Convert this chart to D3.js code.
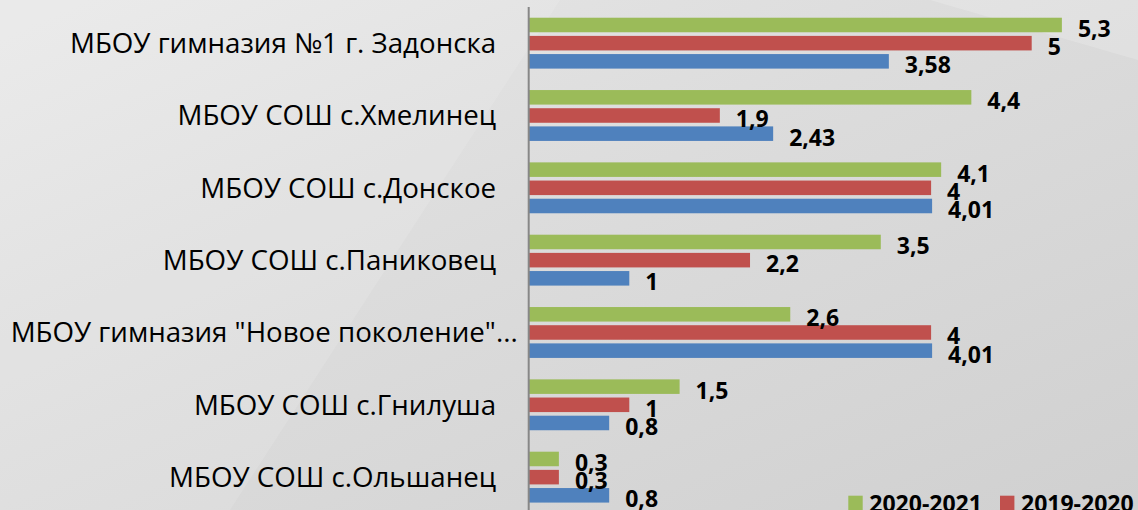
<!DOCTYPE html>
<html><head><meta charset="utf-8">
<script src="https://cdn.jsdelivr.net/npm/d3@7"></script>
<style>
html,body{margin:0;padding:0;overflow:hidden;background:#dcdcdc;}
svg{display:block;}
text{font-family:"Open Sans","Noto Sans",sans-serif;}
</style></head>
<body>
<script>
const categories = ["МБОУ гимназия №1 г. Задонска   ", "МБОУ СОШ с.Хмелинец   ", "МБОУ СОШ с.Донское   ", "МБОУ СОШ с.Паниковец   ", "МБОУ гимназия \"Новое поколение\"...", "МБОУ СОШ с.Гнилуша   ", "МБОУ СОШ с.Ольшанец   "];
const seriesNames = ["2020-2021", "2019-2020", "2018-2019"];
const values2020_2021 = [5.3, 4.4, 4.1, 3.5, 2.6, 1.5, 0.3];
const values2019_2020 = [5, 1.9, 4, 2.2, 4, 1, 0.3];
const values2018_2019 = [3.58, 2.43, 4.01, 1, 4.01, 0.8, 0.8];
const seriesColors = ["#9BBB59", "#C0504D", "#4F81BD"];
const xDomain = [0, 6];

const W = 1138, H = 510;
const svg = d3.select("body").append("svg").attr("width", W).attr("height", H);

// background
const defs = svg.append("defs");
const g1 = defs.append("linearGradient").attr("id","bg").attr("x1","0").attr("y1","0").attr("x2","1").attr("y2","1");
g1.append("stop").attr("offset","0").attr("stop-color","#e8e8e8");
g1.append("stop").attr("offset","0.45").attr("stop-color","#dcdcdc");
g1.append("stop").attr("offset","1").attr("stop-color","#d0d0d0");
svg.append("rect").attr("width",W).attr("height",H).attr("fill","url(#bg)");
svg.append("path").attr("d","M0,0 L560,0 L230,510 L0,510 Z").attr("fill","#ffffff").attr("opacity",0.12);
svg.append("path").attr("d","M930,0 L1138,0 L1138,60 Z").attr("fill","#ffffff").attr("opacity",0.18);

const x = d3.scaleLinear().domain(xDomain).range([528.7, 1132.3]);
const y = d3.scaleBand().domain(categories).range([7, 513.3]).paddingInner(0).paddingOuter(0);
const ys = d3.scaleBand().domain(seriesNames).range([0, y.bandwidth()]).paddingInner(0.2).paddingOuter(0.59);

const seriesValues = [values2020_2021, values2019_2020, values2018_2019];
const rows = [];
categories.forEach((c, i) => seriesNames.forEach((s, j) => rows.push({c, s, j, v: seriesValues[j][i]})));

svg.append("g").selectAll("rect").data(rows).join("rect")
  .attr("x", x(0))
  .attr("y", d => y(d.c) + ys(d.s))
  .attr("width", d => x(d.v) - x(0))
  .attr("height", ys.bandwidth())
  .attr("fill", d => seriesColors[d.j]);

svg.append("g").selectAll("text").data(rows).join("text")
  .attr("x", d => x(d.v) + 16)
  .attr("y", d => y(d.c) + ys(d.s) + ys.bandwidth()/2 + 12)
  .attr("font-size", 23).attr("font-weight", "bold").attr("fill", "#000")
  .text(d => String(d.v).replace(".", ","));

// category axis
const yAxis = d3.axisLeft(y).tickSize(0).tickPadding(11);
const ag = svg.append("g").attr("transform", `translate(${x(0)},0)`).call(yAxis);
ag.select(".domain").attr("stroke", "#878787").attr("stroke-width", 2).attr("d", `M0,7V513`);
ag.selectAll("text").attr("font-size", 27.7).attr("fill", "#000")
  .style("font-family", '"Open Sans","Noto Sans",sans-serif')
  .style("white-space", "pre").attr("dy", "0.35em");

// legend
const leg = svg.append("g");
const legX = [848.3, 1000, 1152];
seriesNames.forEach((s, j) => {
  if (legX[j] > W) return;
  leg.append("rect").attr("x", legX[j]).attr("y", 495.7).attr("width", 14.4).attr("height", 14.4).attr("fill", seriesColors[j]);
  leg.append("text").attr("x", legX[j] + 21).attr("y", 512).attr("font-size", 23).attr("font-weight", "bold").attr("fill", "#000").text(s);
});
</script>
</body></html>
